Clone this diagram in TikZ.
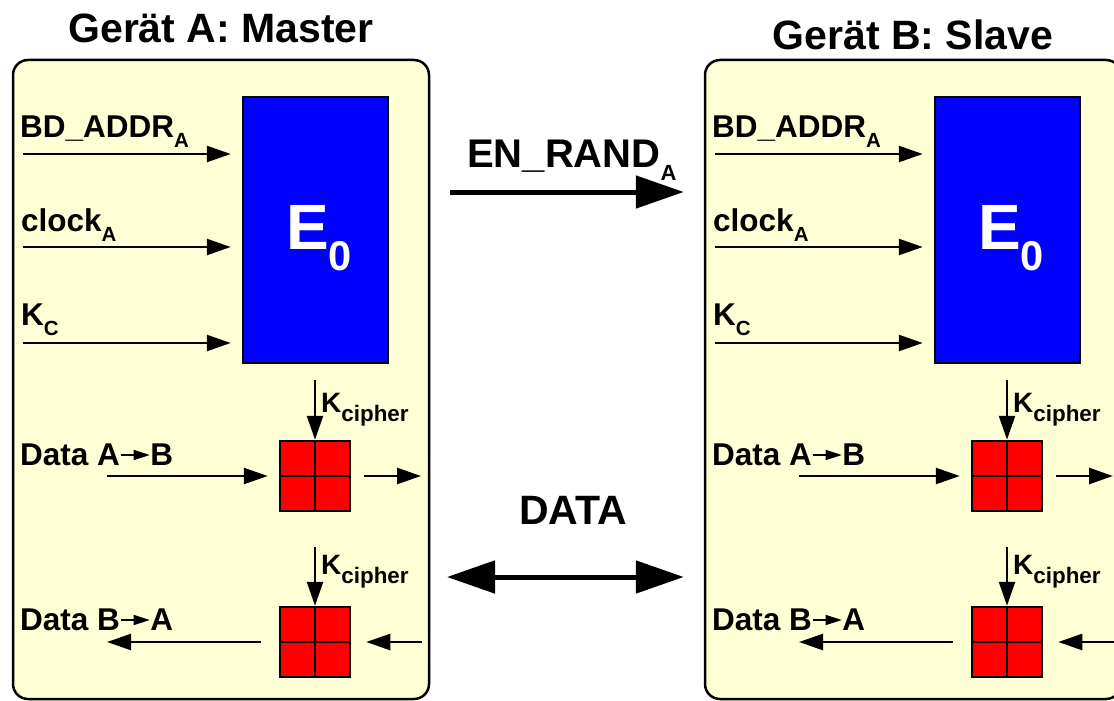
\documentclass[tikz,border=0pt]{standalone}
\usepackage{fontspec}
\setmainfont{Liberation Sans}
\usepackage{graphicx}
\usetikzlibrary{arrows.meta,positioning}

\definecolor{devyellow}{RGB}{255,255,213}
\newcommand{\idx}[2][.65]{\raisebox{-.33em}{\scalebox{#1}{#2}}}
\newcommand{\rarr}{\tikz[baseline=-10pt]\draw[line width=1.5pt,-{Triangle[length=16pt,width=10pt]}] (0pt,0pt) -- (29pt,0pt);}

\begin{document}
\begin{tikzpicture}[x=1pt, y=-1pt, >={Triangle[length=24pt,width=16pt]},
    dev/.style={draw, line width=2.5pt, rounded corners=15pt, fill=devyellow,
      minimum width=416pt, minimum height=639pt},
    encbox/.style={draw, line width=2.5pt, fill=blue, minimum width=145pt, minimum height=266pt},
    ciph/.style={draw, line width=2.5pt, fill=red, minimum size=70pt,
      path picture={\draw[line width=1.2pt] (path picture bounding box.north) -- (path picture bounding box.south)
        (path picture bounding box.west) -- (path picture bounding box.east);}},
    lbl/.style={anchor=base west, inner sep=0pt, font=\bfseries\fontsize{31.5}{36}\selectfont},
    sig/.style={line width=2.5pt, ->},
    big/.style={line width=5pt, -{Triangle[length=48pt,width=32pt]}}]
    \useasboundingbox (0,0) rectangle (1114,701);
    \clip (0,0) rectangle (1114,701);

    % Geraete
    \foreach \dx/\n/\role/\ty in {0/A/Master/43, 692/B/Slave/50}{
    \begin{scope}[shift={(\dx,0)}]
      \node[dev] (dev\n) at (221,379.5) {};
      \node[anchor=base, inner sep=0pt, font=\bfseries\fontsize{41}{46}\selectfont] (tit\n) at (221,\ty) {Gerät \n: \role};

      % E0
      \node[encbox] (E\n) at (315.5,230) {};
      \node[anchor=base west, inner sep=0pt, text=white, font=\bfseries\fontsize{64}{70}\selectfont] (El\n) at (286,249) {E\idx{0}};

      % inputs
      \coordinate (bd\n) at (23,154);
      \coordinate (cl\n) at (23,247);
      \coordinate (kc\n) at (23,343);
      \draw[sig, shorten >=11pt] (bd\n) -- (bd\n -| E\n.west);
      \draw[sig, shorten >=11pt] (cl\n) -- (cl\n -| E\n.west);
      \draw[sig, shorten >=11pt] (kc\n) -- (kc\n -| E\n.west);
      \node[lbl] (bdl\n) at (20,137) {BD\_ADDR\idx{A}};
      \node[lbl] (cll\n) at (21,231) {clock\idx{A}};
      \node[lbl] (kcl\n) at (21,325) {K\idx{C}};

      % cipher
      \node[ciph] (ca\n) at (315,476) {};
      \node[ciph] (cb\n) at (315,642) {};
      \coordinate (ka\n) at (315,380);
      \coordinate (kb\n) at (315,547);
      \draw[sig] (ka\n) -- (ca\n);
      \draw[sig] (kb\n) -- (cb\n);
      \node[lbl, font=\bfseries\fontsize{28}{34}\selectfont] (kal\n) at (321,412) {K\idx[.8]{cipher}};
      \node[lbl, font=\bfseries\fontsize{28}{34}\selectfont] (kbl\n) at (321,574) {K\idx[.8]{cipher}};

      % data
      \coordinate (dab\n) at (107,476);
      \coordinate (oab\n) at (421,476);
      \coordinate (dba\n) at (107,642);
      \coordinate (iba\n) at (422,642);
      \draw[sig, shorten >=11pt] (dab\n) -- (ca\n);
      \draw[sig, shorten <=13pt] (ca\n) -- (oab\n);
      \draw[sig, shorten <=18pt] (cb\n) -- (dba\n);
      \draw[sig, shorten >=15pt] (iba\n) -- (cb\n);
      \node[lbl] (dabl\n) at (20,465) {Data A\rarr B};
      \node[lbl] (dbal\n) at (20,630) {Data B\rarr A};
    \end{scope}}

    % Verbindung
    \coordinate (rnd) at (450,192);
    \coordinate (dat) at (447,577);
    \draw[big, shorten >=20pt] (rnd) -- (rnd -| devB.west);
    \draw[big, {Triangle[length=48pt,width=32pt]}-{Triangle[length=48pt,width=32pt]}, shorten >=20pt]
      (dat) -- (dat -| devB.west);
    \node[anchor=base west, inner sep=0pt, font=\bfseries\fontsize{40}{44}\selectfont] (rndl) at (467,167) {EN\_RAND\idx[.55]{A}};
    \node[anchor=base, inner sep=0pt, font=\bfseries\fontsize{41}{46}\selectfont] (datl) at (573,524) {DATA};
\end{tikzpicture}
\end{document}
